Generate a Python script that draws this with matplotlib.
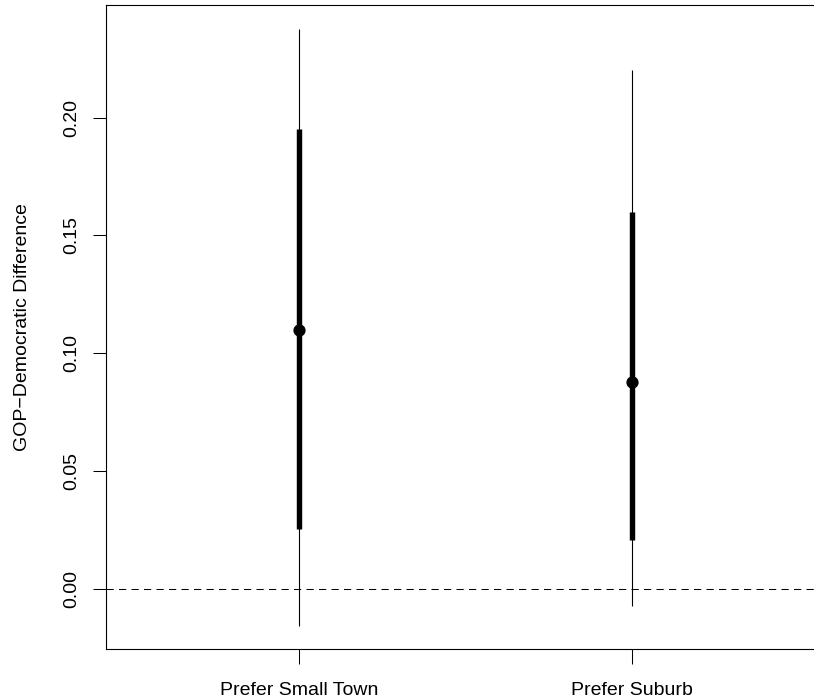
import matplotlib
matplotlib.use("Agg")
import matplotlib.pyplot as plt

plt.rcParams['font.family'] = ['Liberation Sans', 'DejaVu Sans']
plt.rcParams['lines.scale_dashes'] = False

categories = ["Prefer Small Town", "Prefer Suburb"]
estimates = [0.1098, 0.0879]
inner_low = [0.0252, 0.0207]
inner_high = [0.1951, 0.1598]
outer_low = [-0.0158, -0.0073]
outer_high = [0.2375, 0.2203]
yticks = [0.00, 0.05, 0.10, 0.15, 0.20]
ytick_labels = ["0.00", "0.05", "0.10", "0.15", "0.20"]

W, H = 814, 700
fig = plt.figure(figsize=(W / 100, H / 100), dpi=100)
left_px, right_px, top_px, bottom_px = 106, 850, 5, 649
ax = fig.add_axes([left_px / W, 1 - bottom_px / H, (right_px - left_px) / W, (bottom_px - top_px) / H])

xs = [1, 2]
ax.axhline(0, color='black', lw=0.75, dashes=(5.2, 3.8), zorder=1)
ax.vlines(xs, outer_low, outer_high, color='black', lw=0.8, zorder=2)
ax.vlines(xs, inner_low, inner_high, color='black', lw=3.9, zorder=3)
ax.plot(xs, estimates, 'o', color='black', ms=7.8, zorder=4)

# 299 -> 1, 632 -> 2  => 333 px per unit
ppu = 632 - 299
ax.set_xlim(1 - (299 - left_px) / ppu, 2 + (right_px - 632) / ppu)
y0 = 588.7
ypu = (588.7 - 117.7) / 0.2
ax.set_ylim((y0 - bottom_px) / ypu, (y0 - top_px) / ypu)

ax.set_xticks(xs)
ax.set_xticklabels(categories, fontsize=14)
ax.set_yticks(yticks)
ax.set_yticklabels(ytick_labels, fontsize=14, rotation=90, va='center')
ax.tick_params(axis='x', length=10.5, width=0.75, pad=13)
ax.tick_params(axis='y', length=9.5, width=0.75, pad=9)
for s in ax.spines.values():
    s.set_linewidth(0.8)

ax.set_ylabel("GOP\u2212Democratic Difference", fontsize=14)
ax.yaxis.set_label_coords(31 / W, 1 - 327 / H, transform=fig.transFigure)

fig.savefig("out.png", dpi=100)
